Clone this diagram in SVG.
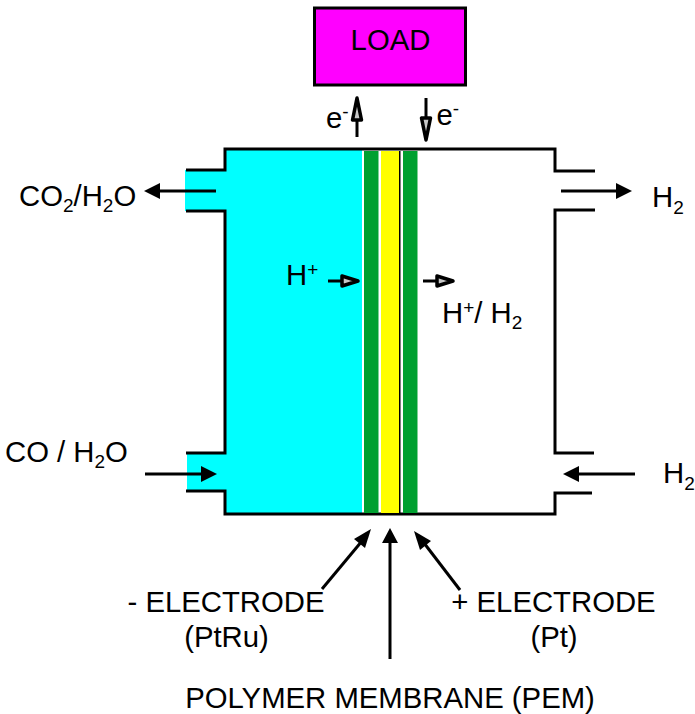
<svg xmlns="http://www.w3.org/2000/svg" width="695" height="714" viewBox="0 0 695 714">
<style>
text{font-family:"Liberation Sans",Arial,sans-serif;font-size:29.300px;fill:#000}
.s{font-size:19px}
.w{fill:none;stroke:#000;stroke-width:3}
.l{fill:none;stroke:#000;stroke-width:3}
.o{fill:#c8c8c8;stroke:#000;stroke-width:3.500;stroke-linejoin:round}
.h{fill:#000;stroke:none}
</style>
<rect width="695" height="714" fill="#fff"/>
<g id="cell">
<rect x="225" y="149" width="137" height="365" fill="#0ff"/>
<rect x="185" y="170" width="40" height="41" fill="#0ff"/>
<rect x="187" y="453" width="38" height="38" fill="#0ff"/>
<path class="w" d="M186 170H225V149H555V171H595M595 210H555V453H594M592 493H555V514H225V491H186M186 453H225V211H186"/>
</g>
<g id="membrane">
<rect id="anode" x="364" y="151" width="14.500" height="362" fill="#00a030"/>
<rect id="pem" x="381" y="151" width="18" height="362" fill="#ff0"/>
<rect x="399" y="151" width="1.500" height="362" fill="#000"/>
<rect id="cathode" x="403" y="151" width="14.500" height="362" fill="#00a030"/>
</g>
<g id="load">
<rect x="314.500" y="8" width="151" height="77" fill="#f0f" stroke="#000" stroke-width="3"/>
<text x="390.500" y="50" text-anchor="middle">LOAD</text>
</g>
<g id="connectors">
<path class="l" d="M216 191H155"/><path class="h" d="M144 191L160 183V199Z"/>
<path class="l" d="M145 474H205"/><path class="h" d="M217 474L201 466V482Z"/>
<path class="l" d="M561 191H620"/><path class="h" d="M632 191L616 183V199Z"/>
<path class="l" d="M635 474H575"/><path class="h" d="M563 474L579 466V482Z"/>
<path class="l" d="M357 137V120"/><path class="o" d="M357 98L352.500 120H361.500Z"/>
<path class="l" d="M426 98V118"/><path class="o" d="M426 140L421.500 118H430.500Z"/>
<path class="l" d="M328 281H342"/><path class="o" d="M358 281L342 276V286Z"/>
<path class="l" d="M423 281H437"/><path class="o" d="M453 281L437 276V286Z"/>
<path class="l" d="M322 589L362 541"/><path class="h" d="M371 529L365 548L354 539Z"/>
<path class="l" d="M390 659V540"/><path class="h" d="M390 528L398 543H382Z"/>
<path class="l" d="M460 590L424 543"/><path class="h" d="M414 531L431 541L420 550Z"/>
</g>
<g id="labels">
<text x="326" y="128">e<tspan class="s" dy="-10">-</tspan></text>
<text x="436.500" y="125">e<tspan class="s" dy="-10">-</tspan></text>
<text x="19" y="206">CO<tspan class="s" dy="6">2</tspan><tspan dy="-6">/H</tspan><tspan class="s" dy="6">2</tspan><tspan dy="-6">O</tspan></text>
<text x="652" y="207">H<tspan class="s" dy="7">2</tspan></text>
<text x="286" y="285">H<tspan class="s" dy="-9">+</tspan></text>
<text x="442" y="323">H<tspan class="s" dy="-9">+</tspan><tspan dy="9">/ H</tspan><tspan class="s" dy="6">2</tspan></text>
<text x="5" y="462">CO / H<tspan class="s" dy="6">2</tspan><tspan dy="-6">O</tspan></text>
<text x="663" y="483">H<tspan class="s" dy="7">2</tspan></text>
<text x="226" y="612" text-anchor="middle">- ELECTRODE</text>
<text x="226.500" y="647" text-anchor="middle">(PtRu)</text>
<text x="553.500" y="612" text-anchor="middle">+ ELECTRODE</text>
<text x="554" y="647" text-anchor="middle">(Pt)</text>
<text x="390" y="708" text-anchor="middle">POLYMER MEMBRANE (PEM)</text>
</g>
</svg>
